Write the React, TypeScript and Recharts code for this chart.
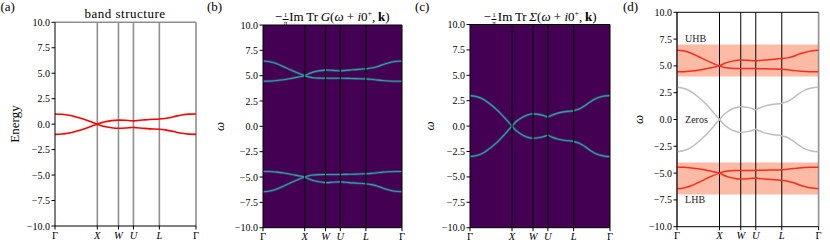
import React from 'react';
import {
  LineChart,
  Line,
  XAxis,
  YAxis,
  ReferenceLine,
  ReferenceArea,
  ReferenceDot,
  CartesianGrid,
} from 'recharts';

const FONT = "'Liberation Serif', 'Times New Roman', serif";

// high-symmetry points along Γ-X-W-U-L-Γ (fraction of path length)
const kTicks = [0, 0.3001, 0.4502, 0.5563, 0.7401, 1];
const kLabels = ['Γ', 'X', 'W', 'U', 'L', 'Γ'];
const yTicks = [-10, -7.5, -5, -2.5, 0, 2.5, 5, 7.5, 10];

// sample positions along the path
const kPath = [0, 0.05, 0.1, 0.15, 0.2, 0.25, 0.3001, 0.33, 0.36, 0.4, 0.4502, 0.5, 0.535, 0.5563, 0.58, 0.62, 0.67, 0.7401, 0.78, 0.82, 0.86, 0.9, 0.95, 1];

// (a) bare bands, two branches crossing at X
const bandA = [1.0, 0.97, 0.87, 0.7, 0.5, 0.26, 0, -0.15, -0.25, -0.35, -0.4, -0.38, -0.34, -0.32, -0.35, -0.4, -0.46, -0.5, -0.56, -0.66, -0.79, -0.9, -0.98, -1.0];
const bandB = [-1.0, -0.97, -0.87, -0.7, -0.5, -0.26, 0, 0.15, 0.25, 0.35, 0.4, 0.38, 0.34, 0.32, 0.35, 0.4, 0.46, 0.5, 0.56, 0.66, 0.79, 0.9, 0.98, 1.0];

// (c) self-energy poles (= zeros of G in (d))
const sigmaA = [3.0, 2.9, 2.6, 2.1, 1.5, 0.78, 0, -0.45, -0.75, -1.05, -1.2, -1.13, -1.0, -0.9, -1.05, -1.25, -1.4, -1.52, -1.68, -2.0, -2.4, -2.72, -2.93, -3.0];
const sigmaB = [-3.0, -2.9, -2.6, -2.1, -1.5, -0.78, 0, 0.45, 0.75, 1.05, 1.2, 1.13, 1.0, 0.9, 1.05, 1.25, 1.4, 1.52, 1.68, 2.0, 2.4, 2.72, 2.93, 3.0];

// (b)/(d) poles of G, upper Hubbard band
const gUpA = [6.45, 6.38, 6.18, 5.88, 5.56, 5.26, 5.0, 4.88, 4.8, 4.76, 4.75, 4.75, 4.75, 4.75, 4.74, 4.73, 4.71, 4.68, 4.64, 4.58, 4.52, 4.48, 4.45, 4.45];
const gUpB = [4.45, 4.46, 4.52, 4.6, 4.72, 4.86, 5.0, 5.2, 5.35, 5.47, 5.55, 5.52, 5.49, 5.47, 5.5, 5.55, 5.6, 5.68, 5.75, 5.88, 6.08, 6.25, 6.4, 6.45];
// lower Hubbard band
const gLowA = [-6.45, -6.38, -6.18, -5.88, -5.56, -5.26, -5.0, -4.88, -4.8, -4.76, -4.75, -4.75, -4.75, -4.75, -4.74, -4.73, -4.71, -4.68, -4.64, -4.58, -4.52, -4.48, -4.45, -4.45];
const gLowB = [-4.45, -4.46, -4.52, -4.6, -4.72, -4.86, -5.0, -5.2, -5.35, -5.47, -5.55, -5.52, -5.49, -5.47, -5.5, -5.55, -5.6, -5.68, -5.75, -5.88, -6.08, -6.25, -6.4, -6.45];

const rows = kPath.map((k, i) => ({
  k,
  bandA: bandA[i],
  bandB: bandB[i],
  sigmaA: sigmaA[i],
  sigmaB: sigmaB[i],
  gUpA: gUpA[i],
  gUpB: gUpB[i],
  gLowA: gLowA[i],
  gLowB: gLowB[i],
}));

const fmtY = (v: number) => (v < 0 ? `−${(-v).toFixed(1)}` : v.toFixed(1));

const KTick = (props: any) => {
  const { x, y, index } = props;
  const lab = kLabels[index] ?? '';
  return (
    <text x={x} y={y} dy="0.72em" textAnchor="middle" fontFamily={FONT} fontSize={10.5}
      fontStyle={lab === 'Γ' ? 'normal' : 'italic'} fill="#000">
      {lab}
    </text>
  );
};

const curve = (key: string, stroke: string, w: number, opacity = 1) => (
  <Line key={key + stroke + w} dataKey={key} type="monotone" stroke={stroke} strokeWidth={w}
    strokeOpacity={opacity} dot={false} activeDot={false} isAnimationActive={false} />
);

type PanelProps = { left: number; right: number; top: number; bottom: number; bg?: string; children?: React.ReactNode };

const Panel = ({ left, right, top, bottom, bg, children }: PanelProps) => {
  const yw = 50;
  const rp = 6;
  return (
    <div style={{ position: 'absolute', left: left - yw, top: 0 }}>
      <LineChart width={right - left + yw + rp} height={249} data={rows}
        margin={{ top, right: rp, bottom: 0, left: 0 }}>
        {bg && <CartesianGrid fill={bg} fillOpacity={1} stroke="none" horizontal={false} vertical={false} />}
        <XAxis dataKey="k" type="number" domain={[0, 1]} ticks={kTicks} interval={0}
          tick={<KTick />} tickSize={3.5} tickMargin={1.5} height={249 - bottom}
          axisLine={{ stroke: '#000' }} tickLine={{ stroke: '#000' }} allowDataOverflow />
        <YAxis type="number" domain={[-10, 10]} ticks={yTicks} interval={0} tickFormatter={fmtY}
          width={yw} tickSize={3.5} tickMargin={1.5}
          tick={{ fill: '#000', fontSize: 10, fontFamily: FONT }}
          axisLine={{ stroke: '#000' }} tickLine={{ stroke: '#000' }} allowDataOverflow />
        {children}
      </LineChart>
    </div>
  );
};

const Frac = ({ n, d }: { n: string; d: string }) => (
  <span style={{ display: 'inline-flex', flexDirection: 'column', alignItems: 'center', fontSize: 7,
    lineHeight: '7px', verticalAlign: 4, margin: '0 1px 0 0.5px' }}>
    <span style={{ borderBottom: '0.8px solid #000', padding: '0 1px' }}>{n}</span>
    <span>{d}</span>
  </span>
);

const SpecTitle = ({ cx, sym }: { cx: number; sym: string }) => (
  <div style={{ position: 'absolute', left: cx, top: 9, transform: 'translateX(-50%)', whiteSpace: 'nowrap',
    fontFamily: FONT, fontSize: 13, lineHeight: '15px', color: '#000' }}>
    −<Frac n="1" d="π" />Im&thinsp;Tr&thinsp;<i>{sym}</i>(<i>ω</i>&nbsp;+&nbsp;<i>i</i>0
    <sup style={{ fontSize: 8, lineHeight: 0 }}>+</sup>,&thinsp;<b>k</b>)
  </div>
);

const innerK = kTicks.slice(1, -1);

export default function App() {
  const note = (y: number, text: string) => (
    <ReferenceDot x={0.05} y={y} r={1} fill="none" stroke="none"
      label={{ value: text, position: 'right', offset: 0, fill: '#222', fontSize: 10, fontFamily: FONT }} />
  );
  return (
    <div style={{ position: 'absolute', left: 0, top: 0, width: 830, height: 249, background: '#fff', overflow: 'hidden' }}>
      {/* (a) band structure */}
      <Panel left={54.5} right={195.5} top={22.3} bottom={226}>
        {innerK.map((k) => <ReferenceLine key={k} x={k} stroke="#8f8f8f" strokeWidth={1.6} />)}
        <ReferenceLine x={1} stroke="#8f8f8f" strokeWidth={1.6} />
        <ReferenceLine y={10} stroke="#8f8f8f" strokeWidth={1.6} />
        {curve('bandA', '#ff0000', 1.6)}
        {curve('bandB', '#ff0000', 1.6)}
      </Panel>

      {/* (b) spectral function */}
      <Panel left={262.7} right={401.7} top={25} bottom={227.7} bg="#440154">
        {['gUpA', 'gUpB', 'gLowA', 'gLowB'].map((s) => curve(s, '#2c6f8e', 2.6, 0.55))}
        {['gUpA', 'gUpB', 'gLowA', 'gLowB'].map((s) => curve(s, '#35a09c', 1.1))}
        {innerK.map((k) => <ReferenceLine key={k} x={k} stroke="#000" strokeWidth={1} />)}
        <ReferenceLine x={1} stroke="#000" strokeWidth={1} />
        <ReferenceLine y={10} stroke="#000" strokeWidth={1} />
      </Panel>

      {/* (c) self-energy */}
      <Panel left={470} right={610} top={24.5} bottom={227.7} bg="#440154">
        {['sigmaA', 'sigmaB'].map((s) => curve(s, '#2c6f8e', 2.6, 0.55))}
        {['sigmaA', 'sigmaB'].map((s) => curve(s, '#35a09c', 1.1))}
        {innerK.map((k) => <ReferenceLine key={k} x={k} stroke="#000" strokeWidth={1} />)}
        <ReferenceLine x={1} stroke="#000" strokeWidth={1} />
        <ReferenceLine y={10} stroke="#000" strokeWidth={1} />
      </Panel>

      {/* (d) poles and zeros */}
      <Panel left={676.7} right={818.3} top={12.3} bottom={226.7}>
        <ReferenceArea x1={0} x2={1} y1={4} y2={7} fill="#fdbba5" fillOpacity={1} stroke="none" />
        <ReferenceArea x1={0} x2={1} y1={-7} y2={-4} fill="#fdbba5" fillOpacity={1} stroke="none" />
        {innerK.map((k) => <ReferenceLine key={k} x={k} stroke="#000" strokeWidth={1} />)}
        <ReferenceLine x={0} stroke="#8f8f8f" strokeWidth={1.6} />
        <ReferenceLine x={1} stroke="#8f8f8f" strokeWidth={1.6} />
        <ReferenceLine y={10} stroke="#000" strokeWidth={1} />
        {['sigmaA', 'sigmaB'].map((s) => curve(s, '#bdbdbd', 1.5))}
        {['gUpA', 'gUpB', 'gLowA', 'gLowB'].map((s) => curve(s, '#ff2a1a', 1.5))}
        {note(7.6, 'UHB')}
        {note(0, 'Zeros')}
        {note(-7.5, 'LHB')}
      </Panel>

      <SpecTitle cx={332.2} sym="G" />
      <SpecTitle cx={540} sym="Σ" />

      <svg width={830} height={249} style={{ position: 'absolute', left: 0, top: 0, pointerEvents: 'none' }}
        fontFamily={FONT} fill="#000">
        <text x={0.5} y={10.5} fontSize={13}>(a)</text>
        <text x={207} y={10.5} fontSize={13}>(b)</text>
        <text x={415} y={10.5} fontSize={13}>(c)</text>
        <text x={623} y={10.5} fontSize={13}>(d)</text>
        <text x={125} y={18.3} fontSize={13} textAnchor="middle" letterSpacing={0.5}>band structure</text>
        <text transform="translate(18.5,124) rotate(-90)" fontSize={13} textAnchor="middle">Energy</text>
        <text transform="translate(224,126.5) rotate(-90)" fontSize={13} fontStyle="italic" textAnchor="middle">ω</text>
        <text transform="translate(434,126) rotate(-90)" fontSize={13} fontStyle="italic" textAnchor="middle">ω</text>
        <text transform="translate(643,119.5) rotate(-90)" fontSize={13} fontStyle="italic" textAnchor="middle">ω</text>
      </svg>
    </div>
  );
}
